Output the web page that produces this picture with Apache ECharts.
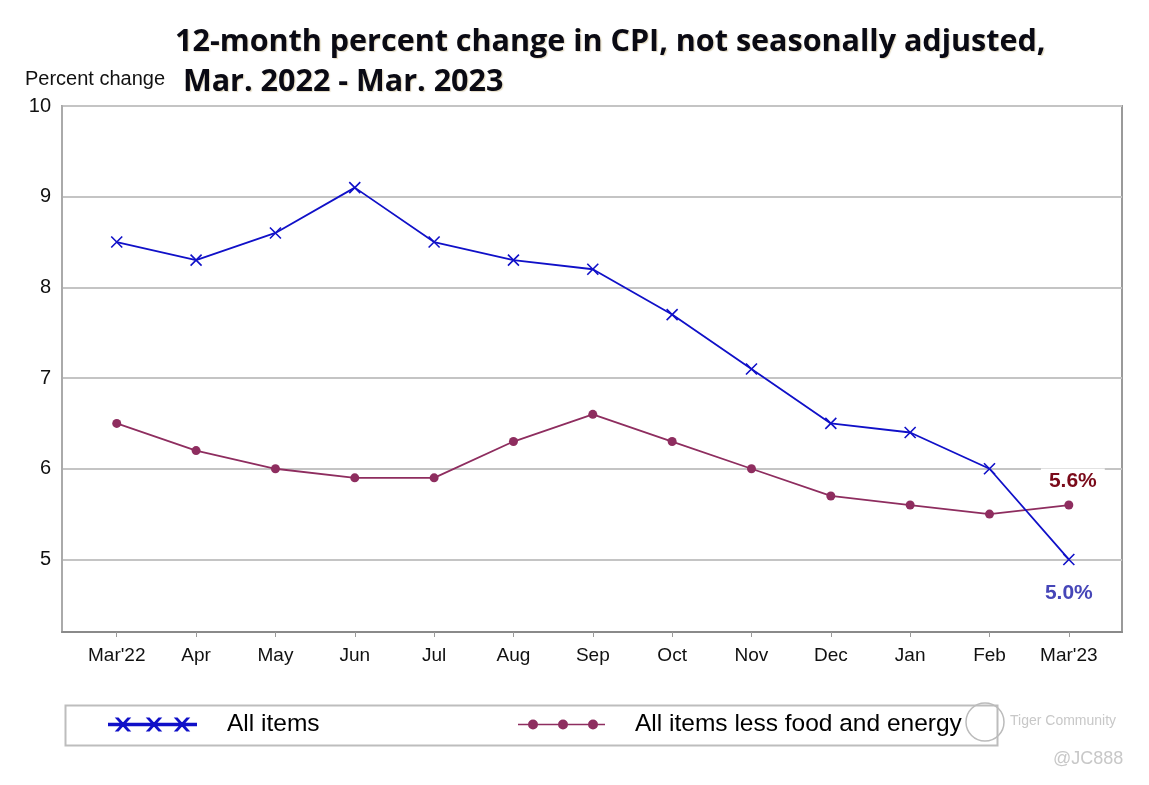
<!DOCTYPE html>
<html><head><meta charset="utf-8">
<script src="https://cdn.jsdelivr.net/npm/echarts@6/dist/echarts.min.js"></script>
<style>html,body{margin:0;padding:0;background:#fff}#c{width:1149px;height:785px}</style>
</head><body><div id="c"></div>
<script>
const categories = ["Mar'22","Apr","May","Jun","Jul","Aug","Sep","Oct","Nov","Dec","Jan","Feb","Mar'23"];
const allItems = [8.5, 8.3, 8.6, 9.1, 8.5, 8.3, 8.2, 7.7, 7.1, 6.5, 6.4, 6.0, 5.0];
const coreItems = [6.5, 6.2, 6.0, 5.9, 5.9, 6.3, 6.6, 6.3, 6.0, 5.7, 5.6, 5.5, 5.6];
const yTicks = [5, 6, 7, 8, 9, 10];
const yGridValues = [5, 6, 7, 8, 9];
const xTicks = categories.map((c, i) => i);

const BLUE = '#1010c8', MAROON = '#8e2d5f';
const sans = '"Liberation Sans", Arial, sans-serif';

function pts(arr){ return arr.map((v,i)=>[i,v]); }

// legend icons (87 x 12)
function crossIcon(){
  let p = 'M0 5.3 L87 5.3 L87 6.7 L0 6.7 Z';
  [14, 45, 73].forEach(cx=>{
    p += ` M${cx-6} 0 L${cx-4.9} 0 L${cx+6} 12 L${cx+4.9} 12 Z`;
    p += ` M${cx+4.9} 0 L${cx+6} 0 L${cx-4.9} 12 L${cx-6} 12 Z`;
  });
  return 'path://' + p;
}
function dotIcon(){
  let p = 'M0 0 L0.01 0 L0.01 0.01 Z M0 5.2 L87 5.2 L87 6.8 L0 6.8 Z';
  [15, 45, 75].forEach(cx=>{
    p += ` M${cx-5} 6 A5 5 0 1 1 ${cx+5} 6 A5 5 0 1 1 ${cx-5} 6 Z`;
  });
  return 'path://' + p + ' M86.99 11.99 L87 11.99 L87 12 Z';
}

const chart = echarts.init(document.getElementById('c'));
const lastIdx = categories.length - 1;
chart.setOption({
  backgroundColor: '#fff',
  animation: false,
  title: {
    text: '12-month percent change in CPI, not seasonally adjusted,\n Mar. 2022 - Mar. 2023',
    left: 170, top: 17,
    textStyle: { fontFamily: '"Open Sans", "Noto Sans", sans-serif', fontWeight: 'bold', fontSize: 30.5, color: '#0a0a14', lineHeight: 40,
      textShadowColor: 'rgba(170,140,60,0.3)', textShadowOffsetX: 1.2, textShadowOffsetY: 1.2, textShadowBlur: 1 }
  },
  grid: { left: 62, right: 27, top: 106, bottom: 153, show: true, borderColor: '#9a9a9a', borderWidth: 2, backgroundColor: 'transparent' },
  xAxis: {
    type: 'value', min: -0.69, max: 12.67,
    axisLine: { show: true, onZero: false, lineStyle: { color: '#8a8a8a', width: 2 } },
    axisTick: { show: true, customValues: xTicks, length: 5, lineStyle: { color: '#999', width: 1 } },
    axisLabel: { customValues: xTicks, formatter: v => categories[Math.round(v)], fontFamily: sans, fontSize: 19, color: '#111', margin: 14 },
    splitLine: { show: false }
  },
  yAxis: {
    type: 'value', min: 4.2, max: 10,
    axisLine: { show: true, onZero: false, lineStyle: { color: '#aaa', width: 2 } },
    axisTick: { show: false, customValues: yTicks },
    axisLabel: { customValues: yTicks, fontFamily: sans, fontSize: 20, color: '#111', margin: 11 },
    splitLine: { show: true, customValues: yGridValues, lineStyle: { color: '#c4c4c4', width: 2 } }
  },
  legend: [
    { data: ['All items'], left: 103, top: 707, itemWidth: 87, itemHeight: 12, icon: crossIcon(),
      textStyle: { fontFamily: sans, fontSize: 24.5, color: '#000', padding: [3,0,0,26] } },
    { data: ['All items less food and energy'], left: 513, top: 707, itemWidth: 87, itemHeight: 12, icon: dotIcon(),
      textStyle: { fontFamily: sans, fontSize: 24.5, color: '#000', padding: [3,0,0,25] } }
  ],
  graphic: [
    { type: 'text', left: 25, top: 69, style: { text: 'Percent change', fill: '#111', font: '20px "Liberation Sans", Arial, sans-serif' } },
    { type: 'rect', left: 63, top: 703, shape: { width: 932, height: 40 }, style: { fill: 'none', stroke: '#bdbdbd', lineWidth: 2 }, z: -1 },
    { type: 'text', left: 1010, top: 714, style: { text: 'Tiger Community', fill: '#c8c8c8', font: '14px "Liberation Sans", Arial, sans-serif' } },
    { type: 'text', left: 1053, top: 750, style: { text: '@JC888', fill: '#c8c8c8', font: '18px "Liberation Sans", Arial, sans-serif' } },
    { type: 'circle', shape: { cx: 985, cy: 722, r: 19 }, style: { fill: 'none', stroke: '#bbbbbb', lineWidth: 1.5 } }
  ],
  series: [
    { name: 'All items', type: 'line', data: pts(allItems),
      symbol: 'path://M0 0 L10 10 M10 0 L0 10', symbolSize: 11,
      itemStyle: { color: BLUE, borderColor: BLUE, borderWidth: 1.6 },
      lineStyle: { color: BLUE, width: 1.8 },
      label: { show: true, formatter: p => p.dataIndex === lastIdx ? allItems[lastIdx].toFixed(1) + '%' : '',
        position: 'bottom', distance: 17, fontFamily: sans, fontWeight: 'bold', fontSize: 21, color: '#4646b8' },
      z: 3 },
    { name: 'All items less food and energy', type: 'line', data: pts(coreItems),
      symbol: 'circle', symbolSize: 9,
      itemStyle: { color: MAROON },
      lineStyle: { color: MAROON, width: 1.8 },
      label: { show: true, formatter: p => p.dataIndex === lastIdx ? coreItems[lastIdx].toFixed(1) + '%' : '',
        position: 'top', distance: 7, offset: [4, 0], fontFamily: sans, fontWeight: 'bold', fontSize: 21, color: '#7a0a1a',
        backgroundColor: '#fff', padding: [2, 8] },
      z: 2 }
  ]
});
</script></body></html>
